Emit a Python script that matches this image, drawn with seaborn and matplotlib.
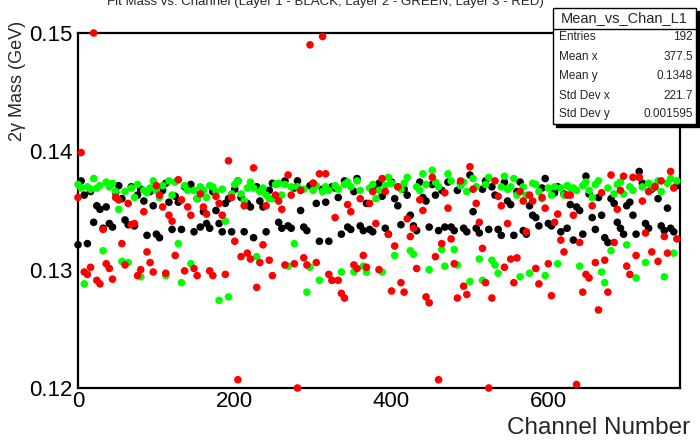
import numpy as np
import pandas as pd
import matplotlib
matplotlib.use("Agg")
import matplotlib.pyplot as plt
from matplotlib.patches import Rectangle
from matplotlib.lines import Line2D
from matplotlib.ticker import MultipleLocator, FixedLocator
import seaborn as sns

# ---------------- data ----------------
layer1_black = [
    0.1321, 0.1375, 0.1363, 0.1322, 0.1366, 0.1340, 0.1354, 0.1351, 0.1335, 0.1353,
    0.1339, 0.1336, 0.1365, 0.1371, 0.1360, 0.1342, 0.1338, 0.1370, 0.1337, 0.1363,
    0.1368, 0.1358, 0.1329, 0.1366, 0.1354, 0.1330, 0.1327, 0.1367, 0.1373, 0.1357,
    0.1334, 0.1362, 0.1357, 0.1334, 0.1370, 0.1368, 0.1372, 0.1332, 0.1360, 0.1336,
    0.1349, 0.1339, 0.1335, 0.1366, 0.1350, 0.1339, 0.1332, 0.1356, 0.1360, 0.1332,
    0.1368, 0.1375, 0.1361, 0.1332, 0.1356, 0.1353, 0.1327, 0.1370, 0.1358, 0.1353,
    0.1332, 0.1367, 0.1373, 0.1361, 0.1340, 0.1335, 0.1375, 0.1337, 0.1335, 0.1369,
    0.1375, 0.1350, 0.1336, 0.1333, 0.1371, 0.1373, 0.1356, 0.1324, 0.1368,
    0.1357, 0.1324, 0.1370, 0.1369, 0.1361, 0.1330, 0.1375, 0.1336, 0.1334, 0.1366,
    0.1377, 0.1337, 0.1333, 0.1356, 0.1334, 0.1332, 0.1371, 0.1373, 0.1362, 0.1335,
    0.1330, 0.1374, 0.1360, 0.1354, 0.1338, 0.1368, 0.1363, 0.1346, 0.1337, 0.1333,
    0.1374, 0.1361, 0.1358, 0.1336, 0.1372, 0.1363, 0.1333, 0.1367, 0.1336,
    0.1374, 0.1336, 0.1333, 0.1367, 0.1373, 0.1335, 0.1332, 0.1380, 0.1349, 0.1335,
    0.1331, 0.1368, 0.1375, 0.1334, 0.1370, 0.1363, 0.1334, 0.1329, 0.1374, 0.1358,
    0.1355, 0.1329, 0.1366, 0.1374, 0.1333, 0.1330, 0.1354, 0.1346, 0.1344, 0.1337,
    0.1369, 0.1377, 0.1339, 0.1337, 0.1365, 0.1370, 0.1332, 0.1364, 0.1335,
    0.1355, 0.1325, 0.1353, 0.1350, 0.1330, 0.1379, 0.1364, 0.1344, 0.1334, 0.1361,
    0.1346, 0.1327, 0.1323, 0.1360, 0.1356, 0.1340, 0.1335, 0.1330, 0.1354, 0.1357,
    0.1346, 0.1330, 0.1383, 0.1373, 0.1339, 0.1335, 0.1368, 0.1370, 0.1360, 0.1337,
    0.1333, 0.1352, 0.1335, 0.1332, 0.1371,
]

layer2_green = [
    0.1372, 0.1369, 0.1288, 0.1370, 0.1368, 0.1377, 0.1369, 0.1371, 0.1316, 0.1374,
    0.1370, 0.1373, 0.1366, 0.1351, 0.1307, 0.1366, 0.1306, 0.1369, 0.1361, 0.1372,
    0.1294, 0.1367, 0.1365, 0.1369, 0.1375, 0.1367, 0.1361, 0.1371, 0.1295, 0.1375,
    0.1363, 0.1374, 0.1322, 0.1289, 0.1371, 0.1367, 0.1305, 0.1367, 0.1360, 0.1370,
    0.1367, 0.1361, 0.1371, 0.1370, 0.1366, 0.1274, 0.1368, 0.1341, 0.1277, 0.1364,
    0.1372, 0.1375, 0.1364, 0.1358, 0.1369, 0.1374, 0.1369, 0.1311, 0.1366, 0.1369,
    0.1363, 0.1360, 0.1360, 0.1372, 0.1373, 0.1363, 0.1372, 0.1303, 0.1370, 0.1322,
    0.1370, 0.1367, 0.1368, 0.1281, 0.1302, 0.1367, 0.1371, 0.1291, 0.1366,
    0.1370, 0.1367, 0.1291, 0.1371, 0.1368, 0.1298, 0.1372, 0.1374, 0.1370, 0.1298,
    0.1375, 0.1367, 0.1303, 0.1298, 0.1369, 0.1372, 0.1360, 0.1367, 0.1298, 0.1371,
    0.1378, 0.1373, 0.1312, 0.1370, 0.1368, 0.1373, 0.1378, 0.1316, 0.1313, 0.1370,
    0.1367, 0.1381, 0.1372, 0.1300, 0.1384, 0.1374, 0.1370, 0.1317, 0.1303,
    0.1381, 0.1375, 0.1317, 0.1304, 0.1371, 0.1374, 0.1366, 0.1290, 0.1377, 0.1370,
    0.1309, 0.1291, 0.1372, 0.1378, 0.1308, 0.1304, 0.1297, 0.1370, 0.1379, 0.1368,
    0.1370, 0.1377, 0.1363, 0.1294, 0.1370, 0.1363, 0.1297, 0.1373, 0.1372, 0.1366,
    0.1360, 0.1295, 0.1369, 0.1363, 0.1370, 0.1305, 0.1369, 0.1363, 0.1371,
    0.1369, 0.1369, 0.1367, 0.1303, 0.1371, 0.1374, 0.1367, 0.1361, 0.1372, 0.1375,
    0.1298, 0.1289, 0.1369, 0.1316, 0.1364, 0.1372, 0.1374, 0.1364, 0.1321, 0.1370,
    0.1367, 0.1293, 0.1378, 0.1370, 0.1306, 0.1373, 0.1369, 0.1371, 0.1375, 0.1366,
    0.1294, 0.1373, 0.1377, 0.1314, 0.1375,
]

layer3_red = [
    0.1361, 0.1399, 0.1298, 0.1296, 0.1302, 0.1500, 0.1291, 0.1288, 0.1334, 0.1305,
    0.1301, 0.1292, 0.1361, 0.1359, 0.1322, 0.1304, 0.1356, 0.1338, 0.1339, 0.1295,
    0.1300, 0.1349, 0.1315, 0.1306, 0.1298, 0.1371, 0.1363, 0.1353, 0.1297, 0.1346,
    0.1341, 0.1312, 0.1376, 0.1359, 0.1299, 0.1353, 0.1346, 0.1301, 0.1295, 0.1364,
    0.1353, 0.1347, 0.1299, 0.1295, 0.1362, 0.1356, 0.1346, 0.1296, 0.1392, 0.1361,
    0.1324, 0.1207, 0.1311, 0.1354, 0.1314, 0.1309, 0.1386, 0.1285, 0.1306, 0.1321,
    0.1354, 0.1308, 0.1295, 0.1363, 0.1358, 0.1351, 0.1304, 0.1380, 0.1363, 0.1305,
    0.1200, 0.1367, 0.1310, 0.1304, 0.1490, 0.1373, 0.1306, 0.1381, 0.1497,
    0.1381, 0.1296, 0.1291, 0.1344, 0.1291, 0.1280, 0.1276, 0.1355, 0.1349, 0.1304,
    0.1301, 0.1360, 0.1312, 0.1302, 0.1356, 0.1366, 0.1339, 0.1300, 0.1377, 0.1366,
    0.1330, 0.1282, 0.1320, 0.1370, 0.1289, 0.1281, 0.1343, 0.1328, 0.1335, 0.1301,
    0.1359, 0.1350, 0.1277, 0.1272, 0.1378, 0.1311, 0.1207, 0.1322, 0.1365,
    0.1352, 0.1326, 0.1305, 0.1276, 0.1375, 0.1286, 0.1279, 0.1387, 0.1368, 0.1356,
    0.1340, 0.1318, 0.1289, 0.1200, 0.1276, 0.1375, 0.1362, 0.1354, 0.1302, 0.1339,
    0.1309, 0.1289, 0.1310, 0.1366, 0.1358, 0.1332, 0.1363, 0.1358, 0.1301, 0.1288,
    0.1361, 0.1352, 0.1305, 0.1278, 0.1340, 0.1347, 0.1325, 0.1315, 0.1363,
    0.1363, 0.1346, 0.1203, 0.1323, 0.1281, 0.1296, 0.1293, 0.1354, 0.1306, 0.1266,
    0.1365, 0.1308, 0.1281, 0.1380, 0.1323, 0.1351, 0.1367, 0.1379, 0.1303, 0.1296,
    0.1378, 0.1312, 0.1378, 0.1358, 0.1331, 0.1366, 0.1315, 0.1370, 0.1307, 0.1375,
    0.1328, 0.1314, 0.1383, 0.1369, 0.1326,
]

channel_step = 4
n_channels = len(layer1_black)
channels = np.arange(n_channels) * channel_step

layer_names = ["Layer 1", "Layer 2", "Layer 3"]
layer_colors = {"Layer 1": "#000000", "Layer 2": "#00ff00", "Layer 3": "#ff0000"}

title_text = "Fit Mass vs. Channel (Layer 1 - BLACK, Layer 2 - GREEN, Layer 3 - RED)"
stats_name = "Mean_vs_Chan_L1"
stats_labels = ["Entries", "Mean x", "Mean y", "Std Dev x", "Std Dev y"]
stats_values = ["192", "377.5", "0.1348", "221.7", "0.001595"]

x_ticks = [0, 200, 400, 600]
y_ticks = [0.12, 0.13, 0.14, 0.15]
y_tick_labels = ["0.12", "0.13", "0.14", "0.15"]

df = pd.concat([
    pd.DataFrame({"channel": channels, "mass": layer1_black, "layer": "Layer 1"}),
    pd.DataFrame({"channel": channels, "mass": layer2_green, "layer": "Layer 2"}),
    pd.DataFrame({"channel": channels, "mass": layer3_red, "layer": "Layer 3"}),
], ignore_index=True)

# ---------------- figure ----------------
sns.set_style("white")
plt.rcParams["font.family"] = ["Liberation Sans", "DejaVu Sans"]

W, H = 700, 440
fig = plt.figure(figsize=(W / 100, H / 100), dpi=100)
fig.patch.set_facecolor("white")

def fx(px):
    return px / W

def fy(py):
    return 1 - py / H

ax_l, ax_r, ax_t, ax_b = 78, 680, 33, 388
ax = fig.add_axes([fx(ax_l), fy(ax_b), (ax_r - ax_l) / W, (ax_b - ax_t) / H])

sns.scatterplot(data=df, x="channel", y="mass", hue="layer", hue_order=layer_names,
                palette=layer_colors, s=30, linewidth=0, legend=False, ax=ax,
                clip_on=False, zorder=3)

ax.set_xlim(0, 768)
ax.set_ylim(0.12, 0.15)
ax.set_xlabel("")
ax.set_ylabel("")

ax.xaxis.set_major_locator(FixedLocator(x_ticks))
ax.xaxis.set_minor_locator(MultipleLocator(50))
ax.yaxis.set_major_locator(FixedLocator(y_ticks))
ax.set_yticklabels(y_tick_labels)
ax.yaxis.set_minor_locator(MultipleLocator(0.002))

for sp in ax.spines.values():
    sp.set_visible(True)
    sp.set_color("black")
    sp.set_linewidth(1.6)

ax.tick_params(axis="both", which="major", direction="in", length=9.5, width=1.0,
               colors="black", labelsize=16)
ax.tick_params(axis="both", which="minor", direction="in", length=4.8, width=1.0,
               colors="black")
ax.tick_params(axis="y", which="both", right=False, pad=4)
ax.tick_params(axis="x", which="both", top=False, pad=2)
ax.grid(False)

# axis titles
fig.text(fx(690), fy(428), "Channel Number", ha="right", va="center", fontsize=17.5)
fig.text(fx(18), fy(21), "2\u03b3 Mass (GeV)", rotation=90, ha="center", va="top",
         fontsize=13)

# title (clipped at top, like the reference)
fig.text(fx(325), fy(5), title_text, ha="center", va="baseline", fontsize=9.5)

# stats box
bx0, bx1, by0, by1 = 553, 696, 8, 124
shadow = Rectangle((fx(bx0 + 3), fy(by1 + 3)), (bx1 - bx0) / W, (by1 - by0) / H,
                   transform=fig.transFigure, facecolor="black", edgecolor="black",
                   zorder=10)
box = Rectangle((fx(bx0), fy(by1)), (bx1 - bx0) / W, (by1 - by0) / H,
                transform=fig.transFigure, facecolor="white", edgecolor="black",
                linewidth=1.0, zorder=11)
fig.add_artist(shadow)
fig.add_artist(box)
fig.add_artist(Line2D([fx(bx0), fx(bx1)], [fy(29), fy(29)], transform=fig.transFigure,
                      color="black", linewidth=1.0, zorder=12))
fig.text(fx((bx0 + bx1) / 2), fy(18.5), stats_name, ha="center", va="center",
         fontsize=10.5, zorder=13)
row_y = [37.5, 56.5, 76, 96, 114]
for lab, val, yy in zip(stats_labels, stats_values, row_y):
    fig.text(fx(559), fy(yy), lab, ha="left", va="center", fontsize=8.5, zorder=13)
    fig.text(fx(693), fy(yy), val, ha="right", va="center", fontsize=8.5, zorder=13)

fig.savefig("out.png", dpi=100, facecolor="white")
